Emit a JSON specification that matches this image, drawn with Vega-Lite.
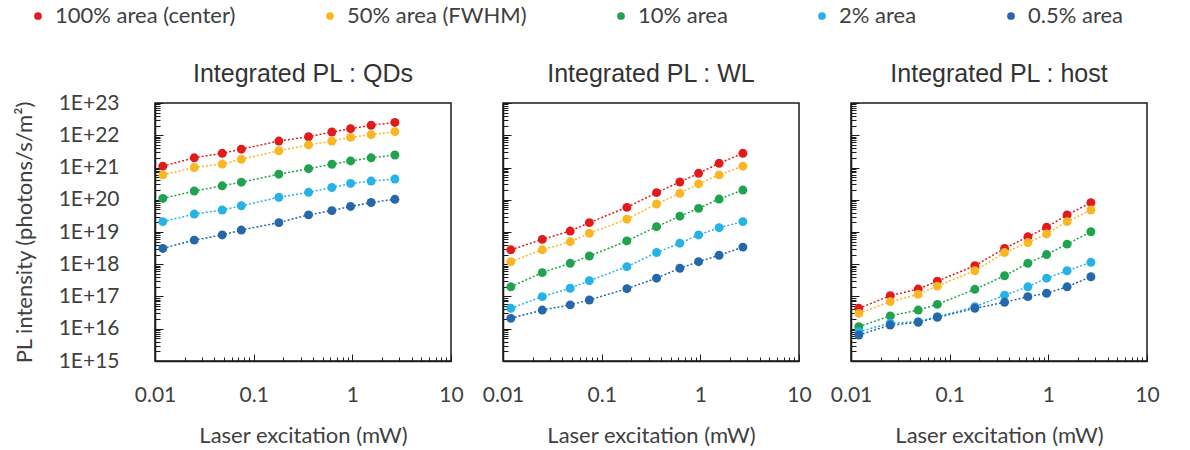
{
  "$schema": "https://vega.github.io/schema/vega-lite/v6.json",
  "padding": {"left": 12, "top": 5, "right": 5, "bottom": 0},
  "datasets": {
    "pl": [
      {"p":"QDs","s":"100% area (center)","x":0.012,"y":1.1e21},{"p":"QDs","s":"100% area (center)","x":0.025,"y":2.0e21},{"p":"QDs","s":"100% area (center)","x":0.048,"y":2.75e21},{"p":"QDs","s":"100% area (center)","x":0.075,"y":3.7e21},{"p":"QDs","s":"100% area (center)","x":0.18,"y":6.6e21},{"p":"QDs","s":"100% area (center)","x":0.36,"y":9.0e21},{"p":"QDs","s":"100% area (center)","x":0.62,"y":1.26e22},{"p":"QDs","s":"100% area (center)","x":0.96,"y":1.6e22},{"p":"QDs","s":"100% area (center)","x":1.55,"y":2.04e22},{"p":"QDs","s":"100% area (center)","x":2.7,"y":2.5e22},
      {"p":"QDs","s":"50% area (FWHM)","x":0.012,"y":5.9e20},{"p":"QDs","s":"50% area (FWHM)","x":0.025,"y":1.0e21},{"p":"QDs","s":"50% area (FWHM)","x":0.048,"y":1.28e21},{"p":"QDs","s":"50% area (FWHM)","x":0.075,"y":1.8e21},{"p":"QDs","s":"50% area (FWHM)","x":0.18,"y":3.3e21},{"p":"QDs","s":"50% area (FWHM)","x":0.36,"y":5.0e21},{"p":"QDs","s":"50% area (FWHM)","x":0.62,"y":6.6e21},{"p":"QDs","s":"50% area (FWHM)","x":0.96,"y":8.6e21},{"p":"QDs","s":"50% area (FWHM)","x":1.55,"y":1.04e22},{"p":"QDs","s":"50% area (FWHM)","x":2.7,"y":1.29e22},
      {"p":"QDs","s":"10% area","x":0.012,"y":1.1e20},{"p":"QDs","s":"10% area","x":0.025,"y":1.87e20},{"p":"QDs","s":"10% area","x":0.048,"y":2.7e20},{"p":"QDs","s":"10% area","x":0.075,"y":3.5e20},{"p":"QDs","s":"10% area","x":0.18,"y":6.2e20},{"p":"QDs","s":"10% area","x":0.36,"y":9.2e20},{"p":"QDs","s":"10% area","x":0.62,"y":1.26e21},{"p":"QDs","s":"10% area","x":0.96,"y":1.6e21},{"p":"QDs","s":"10% area","x":1.55,"y":2.0e21},{"p":"QDs","s":"10% area","x":2.7,"y":2.44e21},
      {"p":"QDs","s":"2% area","x":0.012,"y":2.1e19},{"p":"QDs","s":"2% area","x":0.025,"y":3.6e19},{"p":"QDs","s":"2% area","x":0.048,"y":4.8e19},{"p":"QDs","s":"2% area","x":0.075,"y":6.5e19},{"p":"QDs","s":"2% area","x":0.18,"y":1.19e20},{"p":"QDs","s":"2% area","x":0.36,"y":1.7e20},{"p":"QDs","s":"2% area","x":0.62,"y":2.4e20},{"p":"QDs","s":"2% area","x":0.96,"y":3.2e20},{"p":"QDs","s":"2% area","x":1.55,"y":3.8e20},{"p":"QDs","s":"2% area","x":2.7,"y":4.4e20},
      {"p":"QDs","s":"0.5% area","x":0.012,"y":3.1e18},{"p":"QDs","s":"0.5% area","x":0.025,"y":5.6e18},{"p":"QDs","s":"0.5% area","x":0.048,"y":8.1e18},{"p":"QDs","s":"0.5% area","x":0.075,"y":1.15e19},{"p":"QDs","s":"0.5% area","x":0.18,"y":1.95e19},{"p":"QDs","s":"0.5% area","x":0.36,"y":3.4e19},{"p":"QDs","s":"0.5% area","x":0.62,"y":4.6e19},{"p":"QDs","s":"0.5% area","x":0.96,"y":6.2e19},{"p":"QDs","s":"0.5% area","x":1.55,"y":8.2e19},{"p":"QDs","s":"0.5% area","x":2.7,"y":1.03e20},
      {"p":"WL","s":"100% area (center)","x":0.012,"y":2.8e18},{"p":"WL","s":"100% area (center)","x":0.025,"y":5.9e18},{"p":"WL","s":"100% area (center)","x":0.048,"y":1.07e19},{"p":"WL","s":"100% area (center)","x":0.075,"y":1.95e19},{"p":"WL","s":"100% area (center)","x":0.18,"y":5.8e19},{"p":"WL","s":"100% area (center)","x":0.36,"y":1.66e20},{"p":"WL","s":"100% area (center)","x":0.62,"y":3.55e20},{"p":"WL","s":"100% area (center)","x":0.96,"y":6.6e20},{"p":"WL","s":"100% area (center)","x":1.55,"y":1.35e21},{"p":"WL","s":"100% area (center)","x":2.7,"y":2.75e21},
      {"p":"WL","s":"50% area (FWHM)","x":0.012,"y":1.2e18},{"p":"WL","s":"50% area (FWHM)","x":0.025,"y":2.8e18},{"p":"WL","s":"50% area (FWHM)","x":0.048,"y":5.0e18},{"p":"WL","s":"50% area (FWHM)","x":0.075,"y":9.1e18},{"p":"WL","s":"50% area (FWHM)","x":0.18,"y":2.5e19},{"p":"WL","s":"50% area (FWHM)","x":0.36,"y":7.4e19},{"p":"WL","s":"50% area (FWHM)","x":0.62,"y":1.58e20},{"p":"WL","s":"50% area (FWHM)","x":0.96,"y":3.1e20},{"p":"WL","s":"50% area (FWHM)","x":1.55,"y":5.9e20},{"p":"WL","s":"50% area (FWHM)","x":2.7,"y":1.1e21},
      {"p":"WL","s":"10% area","x":0.012,"y":2.0e17},{"p":"WL","s":"10% area","x":0.025,"y":5.5e17},{"p":"WL","s":"10% area","x":0.048,"y":1.07e18},{"p":"WL","s":"10% area","x":0.075,"y":1.8e18},{"p":"WL","s":"10% area","x":0.18,"y":5.3e18},{"p":"WL","s":"10% area","x":0.36,"y":1.46e19},{"p":"WL","s":"10% area","x":0.62,"y":3.1e19},{"p":"WL","s":"10% area","x":0.96,"y":5.4e19},{"p":"WL","s":"10% area","x":1.55,"y":1.05e20},{"p":"WL","s":"10% area","x":2.7,"y":2.0e20},
      {"p":"WL","s":"2% area","x":0.012,"y":4.3e16},{"p":"WL","s":"2% area","x":0.025,"y":9.9e16},{"p":"WL","s":"2% area","x":0.048,"y":1.8e17},{"p":"WL","s":"2% area","x":0.075,"y":3.1e17},{"p":"WL","s":"2% area","x":0.18,"y":8.4e17},{"p":"WL","s":"2% area","x":0.36,"y":2.3e18},{"p":"WL","s":"2% area","x":0.62,"y":4.5e18},{"p":"WL","s":"2% area","x":0.96,"y":8.1e18},{"p":"WL","s":"2% area","x":1.55,"y":1.36e19},{"p":"WL","s":"2% area","x":2.7,"y":2.1e19},
      {"p":"WL","s":"0.5% area","x":0.012,"y":2.1e16},{"p":"WL","s":"0.5% area","x":0.025,"y":3.8e16},{"p":"WL","s":"0.5% area","x":0.048,"y":5.5e16},{"p":"WL","s":"0.5% area","x":0.075,"y":7.8e16},{"p":"WL","s":"0.5% area","x":0.18,"y":1.75e17},{"p":"WL","s":"0.5% area","x":0.36,"y":3.7e17},{"p":"WL","s":"0.5% area","x":0.62,"y":7.5e17},{"p":"WL","s":"0.5% area","x":0.96,"y":1.2e18},{"p":"WL","s":"0.5% area","x":1.55,"y":1.9e18},{"p":"WL","s":"0.5% area","x":2.7,"y":3.4e18},
      {"p":"host","s":"100% area (center)","x":0.012,"y":4.3e16},{"p":"host","s":"100% area (center)","x":0.025,"y":1.06e17},{"p":"host","s":"100% area (center)","x":0.048,"y":1.7e17},{"p":"host","s":"100% area (center)","x":0.075,"y":3.0e17},{"p":"host","s":"100% area (center)","x":0.18,"y":9.0e17},{"p":"host","s":"100% area (center)","x":0.36,"y":3.1e18},{"p":"host","s":"100% area (center)","x":0.62,"y":7.1e18},{"p":"host","s":"100% area (center)","x":0.96,"y":1.4e19},{"p":"host","s":"100% area (center)","x":1.55,"y":3.4e19},{"p":"host","s":"100% area (center)","x":2.7,"y":8.1e19},
      {"p":"host","s":"50% area (FWHM)","x":0.012,"y":3.0e16},{"p":"host","s":"50% area (FWHM)","x":0.025,"y":6.9e16},{"p":"host","s":"50% area (FWHM)","x":0.048,"y":1.17e17},{"p":"host","s":"50% area (FWHM)","x":0.075,"y":2.1e17},{"p":"host","s":"50% area (FWHM)","x":0.18,"y":6.3e17},{"p":"host","s":"50% area (FWHM)","x":0.36,"y":2.3e18},{"p":"host","s":"50% area (FWHM)","x":0.62,"y":4.7e18},{"p":"host","s":"50% area (FWHM)","x":0.96,"y":8.7e18},{"p":"host","s":"50% area (FWHM)","x":1.55,"y":2.1e19},{"p":"host","s":"50% area (FWHM)","x":2.7,"y":4.8e19},
      {"p":"host","s":"10% area","x":0.012,"y":1.16e16},{"p":"host","s":"10% area","x":0.025,"y":2.5e16},{"p":"host","s":"10% area","x":0.048,"y":3.8e16},{"p":"host","s":"10% area","x":0.075,"y":5.7e16},{"p":"host","s":"10% area","x":0.18,"y":1.67e17},{"p":"host","s":"10% area","x":0.36,"y":4.4e17},{"p":"host","s":"10% area","x":0.62,"y":1.07e18},{"p":"host","s":"10% area","x":0.96,"y":2.0e18},{"p":"host","s":"10% area","x":1.55,"y":4.2e18},{"p":"host","s":"10% area","x":2.7,"y":1.02e19},
      {"p":"host","s":"2% area","x":0.012,"y":8.1e15},{"p":"host","s":"2% area","x":0.025,"y":1.48e16},{"p":"host","s":"2% area","x":0.048,"y":1.66e16},{"p":"host","s":"2% area","x":0.075,"y":2.36e16},{"p":"host","s":"2% area","x":0.18,"y":4.8e16},{"p":"host","s":"2% area","x":0.36,"y":1.1e17},{"p":"host","s":"2% area","x":0.62,"y":2.0e17},{"p":"host","s":"2% area","x":0.96,"y":3.7e17},{"p":"host","s":"2% area","x":1.55,"y":6.3e17},{"p":"host","s":"2% area","x":2.7,"y":1.15e18},
      {"p":"host","s":"0.5% area","x":0.012,"y":6.4e15},{"p":"host","s":"0.5% area","x":0.025,"y":1.3e16},{"p":"host","s":"0.5% area","x":0.048,"y":1.58e16},{"p":"host","s":"0.5% area","x":0.075,"y":2.26e16},{"p":"host","s":"0.5% area","x":0.18,"y":4.3e16},{"p":"host","s":"0.5% area","x":0.36,"y":6.6e16},{"p":"host","s":"0.5% area","x":0.62,"y":9.9e16},{"p":"host","s":"0.5% area","x":0.96,"y":1.26e17},{"p":"host","s":"0.5% area","x":1.55,"y":2.0e17},{"p":"host","s":"0.5% area","x":2.7,"y":4.1e17}
    ]
  },
  "data": {"name": "pl"},
  "spacing": 17,
  "resolve": {"scale": {"color": "shared", "stroke": "shared"}},
  "hconcat": [
    {
      "title": {"text": "Integrated PL : QDs", "offset": 5},
      "width": 296, "height": 258,
      "transform": [{"filter": "datum.p === 'QDs'"}],
      "resolve": {"axis": {"x": "independent", "y": "independent"}},
      "layer": [
        {
          "mark": {"type": "line", "strokeDash": [2, 2], "strokeWidth": 1.5},
          "encoding": {
            "x": {"field": "x", "type": "quantitative", "scale": {"type": "log", "domain": [0.01, 10], "nice": false},
                  "axis": {"orient": "bottom", "values": [0.01, 0.1, 1, 10], "format": "~g", "tickSize": -7, "labelPadding": 30, "labelFlush": false, "title": "Laser excitation (mW)", "titlePadding": 20}},
            "y": {"field": "y", "type": "quantitative", "scale": {"type": "log", "domain": [1e15, 1e23], "nice": false},
                  "axis": {"orient": "left", "values": [1e15,1e16,1e17,1e18,1e19,1e20,1e21,1e22,1e23], "labelExpr": "'1E+' + format(log(datum.value)/LN10, '.0f')", "tickSize": -8, "labelPadding": 44, "title": "PL intensity (photons/s/m²)", "titlePadding": 22}},
            "stroke": {"field": "s", "type": "nominal", "legend": null,
                      "scale": {"domain": ["0.5% area", "2% area", "10% area", "50% area (FWHM)", "100% area (center)"], "range": ["#2468ab", "#25b3e6", "#1fa34e", "#fbb723", "#e31a1c"]}}
          }
        },
        {
          "mark": {"type": "circle", "size": 80, "opacity": 1},
          "encoding": {
            "x": {"field": "x", "type": "quantitative", "axis": {"orient": "bottom", "values": [0.02,0.03,0.04,0.05,0.06,0.07,0.08,0.09,0.2,0.3,0.4,0.5,0.6,0.7,0.8,0.9,2,3,4,5,6,7,8,9], "labels": false, "domain": false, "tickSize": -4, "title": null}},
            "y": {"field": "y", "type": "quantitative", "axis": {"orient": "left", "values": [2e15,3e15,4e15,5e15,6e15,7e15,8e15,9e15,2e16,3e16,4e16,5e16,6e16,7e16,8e16,9e16,2e17,3e17,4e17,5e17,6e17,7e17,8e17,9e17,2e18,3e18,4e18,5e18,6e18,7e18,8e18,9e18,2e19,3e19,4e19,5e19,6e19,7e19,8e19,9e19,2e20,3e20,4e20,5e20,6e20,7e20,8e20,9e20,2e21,3e21,4e21,5e21,6e21,7e21,8e21,9e21,2e22,3e22,4e22,5e22,6e22,7e22,8e22,9e22], "labels": false, "domain": false, "tickSize": -5, "title": null}},
            "color": {"field": "s", "type": "nominal", "legend": {"title": null},
                      "scale": {"domain": ["100% area (center)", "50% area (FWHM)", "10% area", "2% area", "0.5% area"], "range": ["#e31a1c", "#fbb723", "#1fa34e", "#25b3e6", "#2468ab"]}}
          }
        }
      ]
    },
    {
      "title": "Integrated PL : WL",
      "width": 296, "height": 258,
      "transform": [{"filter": "datum.p === 'WL'"}],
      "resolve": {"axis": {"x": "independent", "y": "independent"}},
      "layer": [
        {
          "mark": {"type": "line", "strokeDash": [2, 2], "strokeWidth": 1.5},
          "encoding": {
            "x": {"field": "x", "type": "quantitative", "scale": {"type": "log", "domain": [0.01, 10], "nice": false},
                  "axis": {"orient": "bottom", "values": [0.01, 0.1, 1, 10], "format": "~g", "tickSize": -7, "labelPadding": 30, "labelFlush": false, "title": "Laser excitation (mW)", "titlePadding": 20}},
            "y": {"field": "y", "type": "quantitative", "scale": {"type": "log", "domain": [1e15, 1e23], "nice": false},
                  "axis": {"orient": "left", "values": [1e15,1e16,1e17,1e18,1e19,1e20,1e21,1e22,1e23], "labels": false, "tickSize": -8, "title": null}},
            "stroke": {"field": "s", "type": "nominal", "legend": null}
          }
        },
        {
          "mark": {"type": "circle", "size": 80, "opacity": 1},
          "encoding": {
            "x": {"field": "x", "type": "quantitative", "axis": {"orient": "bottom", "values": [0.02,0.03,0.04,0.05,0.06,0.07,0.08,0.09,0.2,0.3,0.4,0.5,0.6,0.7,0.8,0.9,2,3,4,5,6,7,8,9], "labels": false, "domain": false, "tickSize": -4, "title": null}},
            "y": {"field": "y", "type": "quantitative", "axis": {"orient": "left", "values": [2e15,3e15,4e15,5e15,6e15,7e15,8e15,9e15,2e16,3e16,4e16,5e16,6e16,7e16,8e16,9e16,2e17,3e17,4e17,5e17,6e17,7e17,8e17,9e17,2e18,3e18,4e18,5e18,6e18,7e18,8e18,9e18,2e19,3e19,4e19,5e19,6e19,7e19,8e19,9e19,2e20,3e20,4e20,5e20,6e20,7e20,8e20,9e20,2e21,3e21,4e21,5e21,6e21,7e21,8e21,9e21,2e22,3e22,4e22,5e22,6e22,7e22,8e22,9e22], "labels": false, "domain": false, "tickSize": -5, "title": null}},
            "color": {"field": "s", "type": "nominal", "legend": {"title": null}}
          }
        }
      ]
    },
    {
      "title": "Integrated PL : host",
      "width": 296, "height": 258,
      "transform": [{"filter": "datum.p === 'host'"}],
      "resolve": {"axis": {"x": "independent", "y": "independent"}},
      "layer": [
        {
          "mark": {"type": "line", "strokeDash": [2, 2], "strokeWidth": 1.5},
          "encoding": {
            "x": {"field": "x", "type": "quantitative", "scale": {"type": "log", "domain": [0.01, 10], "nice": false},
                  "axis": {"orient": "bottom", "values": [0.01, 0.1, 1, 10], "format": "~g", "tickSize": -7, "labelPadding": 30, "labelFlush": false, "title": "Laser excitation (mW)", "titlePadding": 20}},
            "y": {"field": "y", "type": "quantitative", "scale": {"type": "log", "domain": [1e15, 1e23], "nice": false},
                  "axis": {"orient": "left", "values": [1e15,1e16,1e17,1e18,1e19,1e20,1e21,1e22,1e23], "labels": false, "tickSize": -8, "title": null}},
            "stroke": {"field": "s", "type": "nominal", "legend": null}
          }
        },
        {
          "mark": {"type": "circle", "size": 80, "opacity": 1},
          "encoding": {
            "x": {"field": "x", "type": "quantitative", "axis": {"orient": "bottom", "values": [0.02,0.03,0.04,0.05,0.06,0.07,0.08,0.09,0.2,0.3,0.4,0.5,0.6,0.7,0.8,0.9,2,3,4,5,6,7,8,9], "labels": false, "domain": false, "tickSize": -4, "title": null}},
            "y": {"field": "y", "type": "quantitative", "axis": {"orient": "left", "values": [2e15,3e15,4e15,5e15,6e15,7e15,8e15,9e15,2e16,3e16,4e16,5e16,6e16,7e16,8e16,9e16,2e17,3e17,4e17,5e17,6e17,7e17,8e17,9e17,2e18,3e18,4e18,5e18,6e18,7e18,8e18,9e18,2e19,3e19,4e19,5e19,6e19,7e19,8e19,9e19,2e20,3e20,4e20,5e20,6e20,7e20,8e20,9e20,2e21,3e21,4e21,5e21,6e21,7e21,8e21,9e21,2e22,3e22,4e22,5e22,6e22,7e22,8e22,9e22], "labels": false, "domain": false, "tickSize": -5, "title": null}},
            "color": {"field": "s", "type": "nominal", "legend": {"title": null}}
          }
        }
      ]
    }
  ],
  "config": {
    "font": "Lato",
    "view": {"stroke": "#1a1a1a", "strokeWidth": 1.5},
    "axis": {"grid": false, "domainColor": "#1a1a1a", "domainWidth": 1.5, "tickColor": "#1a1a1a", "tickWidth": 1, "labelFont": "Lato", "labelFontSize": 21, "labelColor": "#404040", "titleFont": "Lato", "titleFontSize": 22, "titleFontWeight": "normal", "titleColor": "#404040"},
    "title": {"font": "Liberation Sans", "fontSize": 25, "fontWeight": "normal", "color": "#333333", "offset": 16},
    "legend": {"orient": "none", "legendX": -128, "legendY": -98, "direction": "horizontal", "columnPadding": 83, "symbolType": "circle", "symbolSize": 60, "symbolStrokeWidth": 0, "labelFont": "Lato", "labelFontSize": 22, "labelColor": "#404040", "labelLimit": 400, "labelOffset": 6}
  }
}
